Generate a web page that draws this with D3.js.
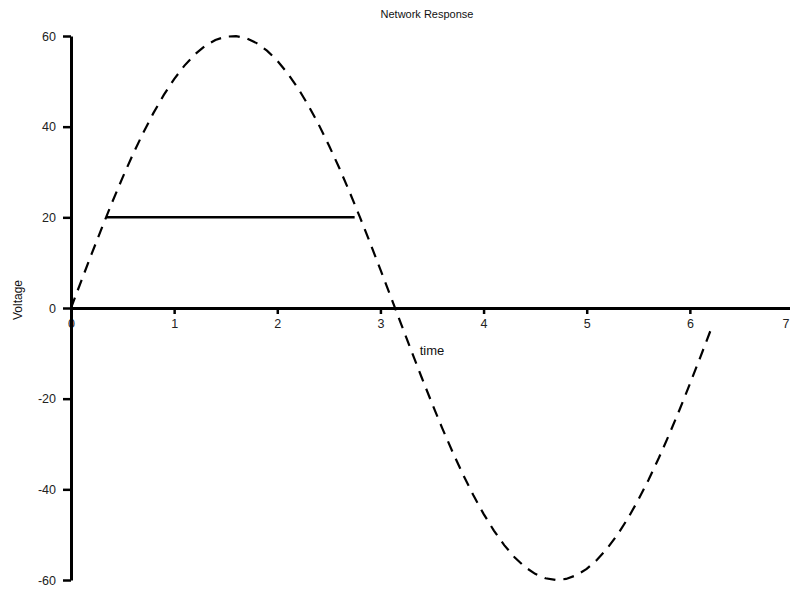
<!DOCTYPE html>
<html>
<head>
<meta charset="utf-8">
<script src="https://cdn.jsdelivr.net/npm/d3@7"></script>
<style>
  body { margin: 0; background: #fff; }
  svg { display: block; font-family: "Liberation Sans", Arial, sans-serif; }
</style>
</head>
<body>
<svg id="chart" width="790" height="592"></svg>
<script>
// network response samples (time, voltage)
const times = [0, 0.1, 0.2, 0.3, 0.4, 0.5, 0.6, 0.7, 0.8, 0.9, 1.0, 1.1, 1.2, 1.3, 1.4, 1.5,
  1.6, 1.7, 1.8, 1.9, 2.0, 2.1, 2.2, 2.3, 2.4, 2.5, 2.6, 2.7, 2.8, 2.9, 3.0, 3.1, 3.2,
  3.3, 3.4, 3.5, 3.6, 3.7, 3.8, 3.9, 4.0, 4.1, 4.2, 4.3, 4.4, 4.5, 4.6, 4.7, 4.8, 4.9,
  5.0, 5.1, 5.2, 5.3, 5.4, 5.5, 5.6, 5.7, 5.8, 5.9, 6.0, 6.1, 6.2];
const voltage = [0, 5.99, 11.92, 17.73, 23.36, 28.77, 33.88, 38.65, 43.04, 47.0, 50.49,
  53.47, 55.92, 57.81, 59.13, 59.85, 59.98, 59.5, 58.43, 56.78, 54.56, 51.79, 48.51,
  44.74, 40.53, 35.91, 30.93, 25.64, 20.1, 14.35, 8.47, 2.5, -3.5, -9.46, -15.33,
  -21.05, -26.55, -31.79, -36.71, -41.27, -45.41, -49.1, -52.3, -54.97, -57.1, -58.65,
  -59.62, -60.0, -59.77, -58.95, -57.54, -55.55, -53.01, -49.94, -46.37, -42.33,
  -37.88, -33.04, -27.88, -22.44, -16.76, -10.93, -4.99];

// clipped level
const clipTimes = [0.34, 2.75];
const clipVoltage = [20, 20];

const xTicks = [0, 1, 2, 3, 4, 5, 6, 7];
const yTicks = [-60, -40, -20, 0, 20, 40, 60];

const svg = d3.select("#chart");

const x = d3.scaleLinear().domain([0, 7]).range([71, 793]);
const y = d3.scaleLinear().domain([-60, 60]).range([580, 36]);

// minor ticks
const xMinor = d3.range(0, 7.01, 0.5).filter((d) => !xTicks.includes(d));
const yMinor = d3.range(-60, 60.1, 10).filter((d) => !yTicks.includes(d));

const fmt = (d) => String(d); // plain hyphen minus like the original

const xAxisG = svg.append("g").attr("transform", `translate(0, ${y(0)})`);
xAxisG.call(d3.axisBottom(x).tickValues(xMinor).tickSize(3).tickSizeOuter(0).tickFormat(""));
xAxisG.call(d3.axisBottom(x).tickValues(xTicks).tickSize(6).tickPadding(5).tickSizeOuter(0).tickFormat(fmt));

// last label sits at the window edge, keep it readable
xAxisG.selectAll(".tick text")
  .filter((d) => d === 7)
  .attr("text-anchor", "end")
  .attr("dx", "-4");

const yAxisG = svg.append("g").attr("transform", `translate(${x(0)}, 0)`);
yAxisG.call(d3.axisLeft(y).tickValues(yMinor).tickSize(4).tickSizeOuter(0).tickFormat(""));
yAxisG.call(d3.axisLeft(y).tickValues(yTicks).tickSize(8).tickPadding(7).tickSizeOuter(0).tickFormat(fmt));

svg.selectAll(".domain").attr("stroke", "#000").attr("stroke-width", 3);
svg.selectAll(".tick line").attr("stroke", "#000").attr("stroke-width", 2.5);
svg.selectAll(".tick text")
  .attr("fill", "#222")
  .style("font-size", "12.5px")
  .style("font-family", "'Liberation Sans', Arial, sans-serif");

// response (dashed)
const line = d3.line()
  .x((d, i) => x(times[i]))
  .y((d) => y(d));

svg.append("path")
  .datum(voltage)
  .attr("fill", "none")
  .attr("stroke", "#000")
  .attr("stroke-width", 2.2)
  .attr("stroke-dasharray", "11,8")
  .attr("d", line);

// clipped level (solid)
const clipLine = d3.line()
  .x((d, i) => x(clipTimes[i]))
  .y((d) => y(d));

svg.append("path")
  .datum(clipVoltage)
  .attr("fill", "none")
  .attr("stroke", "#000")
  .attr("stroke-width", 2.5)
  .attr("d", clipLine);

svg.append("text")
  .attr("x", 427)
  .attr("y", 18)
  .attr("text-anchor", "middle")
  .style("font-size", "11px")
  .attr("fill", "#111")
  .text("Network Response");

svg.append("text")
  .attr("x", 432)
  .attr("y", 355)
  .attr("text-anchor", "middle")
  .style("font-size", "13px")
  .attr("fill", "#111")
  .text("time");

svg.append("text")
  .attr("transform", "translate(22, 300) rotate(-90)")
  .attr("text-anchor", "middle")
  .style("font-size", "12px")
  .attr("fill", "#111")
  .text("Voltage");
</script>
</body>
</html>
